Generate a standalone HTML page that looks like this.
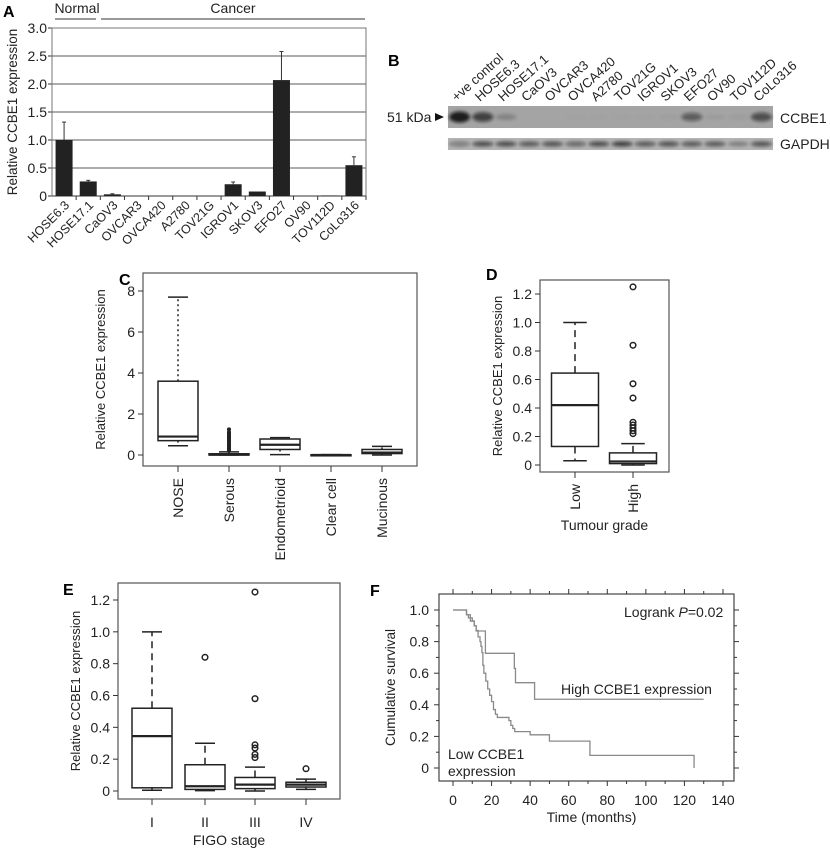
<!DOCTYPE html>
<html><head><meta charset="utf-8"><style>
html,body{margin:0;padding:0;background:#fff;}
svg{display:block;font-family:"Liberation Sans",Arial,sans-serif;}
</style></head><body>
<svg id="fig" width="830" height="851" viewBox="0 0 830 851" xmlns="http://www.w3.org/2000/svg">
<defs><filter id="blur" x="-50%" y="-50%" width="200%" height="200%"><feGaussianBlur stdDeviation="1.5"/></filter></defs>
<g id="pA"></g>
<g id="pB"></g>
<g id="pC"></g>
<g id="pD"></g>
<g id="pE"></g>
<g id="pF"></g>
</svg>
<script>
// ---- Panel A data
const aCategories = ["HOSE6.3","HOSE17.1","CaOV3","OVCAR3","OVCA420","A2780","TOV21G","IGROV1","SKOV3","EFO27","OV90","TOV112D","CoLo316"];
const aValues = [1.0,0.26,0.03,0,0,0,0,0.21,0.08,2.07,0,0.01,0.55];
const aErrors = [0.32,0.02,0.01,0,0,0,0,0.04,0,0.51,0,0,0.15];
const aTicks = [0,0.5,1.0,1.5,2.0,2.5,3.0];
const aTickLabels = ["0","0.5","1.0","1.5","2.0","2.5","3.0"];
// ---- Panel B data
const bLanes = ["+ve control","HOSE6.3","HOSE17.1","CaOV3","OVCAR3","OVCA420","A2780","TOV21G","IGROV1","SKOV3","EFO27","OV90","TOV112D","CoLo316"];
const bCCBE1 = [1.0,0.75,0.22,0,0,0.02,0.02,0.02,0.02,0.04,0.55,0.06,0.05,0.65];
const bGAPDH = [0.45,0.8,0.8,0.7,0.75,0.6,0.8,0.9,0.7,0.75,0.7,0.7,0.35,0.75];
// ---- Panel C data
const cCategories = ["NOSE","Serous","Endometrioid","Clear cell","Mucinous"];
const cMin = [0.45,0,0.02,-0.02,0];
const cQ1 = [0.7,0,0.27,-0.02,0.07];
const cMed = [0.9,0.02,0.5,0,0.12];
const cQ3 = [3.6,0.06,0.78,0.01,0.27];
const cMax = [7.7,0.15,0.85,0.02,0.42];
const cOutliers = [[],[0.2,0.3,0.4,0.5,0.6,0.7,0.8,0.9,1.0,1.1,1.25],[],[],[]];
const cTicks = [0,2,4,6,8];
// ---- Panel D data
const dCategories = ["Low","High"];
const dMin = [0.03,0];
const dQ1 = [0.13,0.01];
const dMed = [0.42,0.025];
const dQ3 = [0.645,0.085];
const dMax = [1.0,0.15];
const dOutliers = [[],[0.22,0.24,0.26,0.28,0.30,0.47,0.57,0.84,1.25]];
const dTicks = [0,0.2,0.4,0.6,0.8,1.0,1.2];
const dTickLabels = ["0","0.2","0.4","0.6","0.8","1.0","1.2"];
// ---- Panel E data
const eCategories = ["I","II","III","IV"];
const eMin = [0.005,0.002,0,0.01];
const eQ1 = [0.02,0.01,0.015,0.025];
const eMed = [0.345,0.03,0.04,0.04];
const eQ3 = [0.52,0.165,0.085,0.055];
const eMax = [1.0,0.3,0.15,0.075];
const eOutliers = [[],[0.84],[0.21,0.23,0.27,0.29,0.58,1.25],[0.14]];
// ---- Panel F data
const fHighTimes = [0,7,9,11,12,16.8,31.8,32.4,42.3,130];
const fHighSurv = [1.0,0.97,0.93,0.9,0.867,0.726,0.63,0.54,0.435,0.435];
const fLowTimes = [0,7,8,10,11,12,13,14,14.5,15,15.5,16,17,18,19,20,21,22,23,29,30,31,32,40,50,71,125];
const fLowSurv = [1.0,0.97,0.95,0.93,0.9,0.87,0.83,0.8,0.77,0.73,0.65,0.6,0.55,0.5,0.46,0.42,0.37,0.34,0.32,0.3,0.27,0.25,0.23,0.21,0.17,0.08,0.08];
const fXTicks = [0,20,40,60,80,100,120,140];
const fYTicks = [0,0.2,0.4,0.6,0.8,1.0];
const fYTickLabels = ["0","0.2","0.4","0.6","0.8","1.0"];

const NS="http://www.w3.org/2000/svg";
function mk(parent,tag,attrs,text){const e=document.createElementNS(NS,tag);for(const k in attrs)e.setAttribute(k,attrs[k]);if(text!==undefined)e.textContent=text;parent.appendChild(e);return e;}

// ===== Panel A
(function(){
const g=document.getElementById('pA');
const L=52,R=366,T=28,B=196;
const y=v=>B-(v/3)*(B-T);
const bw=(R-L)/aCategories.length;
const x=i=>L+bw*(i+0.5);
let t=mk(g,'text',{x:3,y:17,'font-size':16,'font-weight':'bold'},'A');

t=mk(g,'text',{x:77,y:13,'font-size':14,'text-anchor':'middle',fill:'#222'},'Normal');

mk(g,'line',{x1:55,x2:96,y1:19,y2:19,stroke:'#333'});
t=mk(g,'text',{x:233,y:13,'font-size':14,'text-anchor':'middle',fill:'#222'},'Cancer');

mk(g,'line',{x1:101,x2:365,y1:19,y2:19,stroke:'#333'});
aTicks.forEach((v,i)=>{
  if(v>0){const gl=mk(g,'line',{x1:L,x2:R,y1:y(v),y2:y(v),stroke:'#222','stroke-width':0.8});}
  mk(g,'line',{x1:L-4,x2:L,y1:y(v),y2:y(v),stroke:'#333'});
  const tl=mk(g,'text',{x:L-5,y:y(v)+5,'font-size':14,'text-anchor':'end',fill:'#222'},aTickLabels[i]);
  
});
mk(g,'rect',{x:L,y:T,width:R-L,height:B-T,fill:'none',stroke:'#777'});
mk(g,'line',{x1:L,x2:R,y1:B,y2:B,stroke:'#333'});
t=mk(g,'text',{transform:`translate(17,${(T+B)/2}) rotate(-90)`,'font-size':13.5,'text-anchor':'middle',fill:'#222'},'Relative CCBE1 expression');

aCategories.forEach((c,i)=>{
  mk(g,'line',{x1:L+bw*(i+1),x2:L+bw*(i+1),y1:B,y2:B+4,stroke:'#333'});
  const v=aValues[i];
  if(v>0){const r=mk(g,'rect',{x:x(i)-8.5,y:y(v),width:17,height:B-y(v),fill:'#222'});
    }
  if(aErrors[i]>0){mk(g,'line',{x1:x(i),x2:x(i),y1:y(v),y2:y(v+aErrors[i]),stroke:'#333'});
    mk(g,'line',{x1:x(i)-2,x2:x(i)+2,y1:y(v+aErrors[i]),y2:y(v+aErrors[i]),stroke:'#333'});}
  const tl=mk(g,'text',{transform:`translate(${x(i)+6},${B+10}) rotate(-45)`,'font-size':12.5,'text-anchor':'end',fill:'#222'},c);
  
});
})();

// ===== Panel B
(function(){
const g=document.getElementById('pB');
const L=448,R=773,n=bLanes.length,w=(R-L)/n;
let t=mk(g,'text',{x:388,y:66,'font-size':16,'font-weight':'bold'},'B');

bLanes.forEach((c,i)=>{
  const cx=L+w*(i+0.5);
  const tl=mk(g,'text',{transform:`translate(${cx-3},${102}) rotate(-42)`,'font-size':13,fill:'#222'},c);
  
});
let r=mk(g,'rect',{x:L,y:106,width:R-L,height:22,fill:'#a4a4a4'});

r=mk(g,'rect',{x:L,y:138,width:R-L,height:12,fill:'#b3b3b3'});

bCCBE1.forEach((v,i)=>{
  if(v<=0)return;
  const cx=L+w*(i+0.5);
  const e=mk(g,'ellipse',{cx:cx,cy:117,rx:w*0.45,ry:2.5+3*v,fill:'#111','fill-opacity':v*0.9,filter:'url(#blur)'});
  
});
bGAPDH.forEach((v,i)=>{
  const cx=L+w*(i+0.5);
  const e=mk(g,'ellipse',{cx:cx,cy:144,rx:w*0.45,ry:2.5,fill:'#111','fill-opacity':v*0.8,filter:'url(#blur)'});
  
});
t=mk(g,'text',{x:387,y:122,'font-size':14,fill:'#222'},'51 kDa');

mk(g,'polygon',{points:'435,113 444,117 435,121',fill:'#111'});
t=mk(g,'text',{x:780,y:123,'font-size':14,fill:'#222'},'CCBE1');

t=mk(g,'text',{x:780,y:149,'font-size':14,fill:'#222'},'GAPDH');

})();

// ===== boxplot helper
function boxplot(g,o){
  const {L,R,T,B,y0,yv,vmax,cats,xs,bw,mins,q1,med,q3,maxs,outs,ticks,tickLabels,dash,rotLabels,title,xTitle,letter,lx,ly}=o;
  const y=v=>y0-(v/vmax)*(y0-yv);
  let t=mk(g,'text',{x:lx,y:ly,'font-size':16,'font-weight':'bold'},letter);
  
  const fr=mk(g,'rect',{x:L,y:T,width:R-L,height:B-T,fill:'none',stroke:'#555','stroke-width':1.2});
  
  ticks.forEach((v,i)=>{
    mk(g,'line',{x1:L-5,x2:L,y1:y(v),y2:y(v),stroke:'#333'});
    const tl=mk(g,'text',{x:L-8,y:y(v)+5,'font-size':14,'text-anchor':'end',fill:'#222'},tickLabels[i]);
    
  });
  t=mk(g,'text',{transform:`translate(${L-38},${(T+B)/2}) rotate(-90)`,'font-size':13,'text-anchor':'middle',fill:'#222'},title);
  
  cats.forEach((c,i)=>{
    const cx=xs[i];
    mk(g,'line',{x1:cx,x2:cx,y1:B,y2:B+6,stroke:'#333'});
    const bg=mk(g,'g',{});
    
    mk(bg,'line',{x1:cx,x2:cx,y1:y(q3[i]),y2:y(maxs[i]),stroke:'#222','stroke-width':1.5,'stroke-dasharray':dash});
    mk(bg,'line',{x1:cx,x2:cx,y1:y(q1[i]),y2:y(mins[i]),stroke:'#222','stroke-width':1.5,'stroke-dasharray':dash});
    mk(bg,'line',{x1:cx-bw/4,x2:cx+bw/4,y1:y(maxs[i]),y2:y(maxs[i]),stroke:'#222','stroke-width':1.5});
    mk(bg,'line',{x1:cx-bw/4,x2:cx+bw/4,y1:y(mins[i]),y2:y(mins[i]),stroke:'#222','stroke-width':1.5});
    mk(bg,'rect',{x:cx-bw/2,y:y(q3[i]),width:bw,height:Math.max(1,y(q1[i])-y(q3[i])),fill:'#fff',stroke:'#222','stroke-width':1.5});
    mk(bg,'line',{x1:cx-bw/2,x2:cx+bw/2,y1:y(med[i]),y2:y(med[i]),stroke:'#222','stroke-width':2.2});
    outs[i].forEach(v=>{
      const c2=mk(g,'circle',{cx:cx,cy:y(v),r:o.outR,fill:o.outR<2?'#222':'none',stroke:'#222','stroke-width':1.5});
      
    });
    const tl=rotLabels?mk(g,'text',{transform:`translate(${cx+5},${B+12}) rotate(-90)`,'font-size':14,'text-anchor':'end',fill:'#222'},c)
      :mk(g,'text',{x:cx,y:B+28,'font-size':14,'text-anchor':'middle',fill:'#222'},c);
    
  });
  if(xTitle){t=mk(g,'text',{x:(L+R)/2,y:o.xty,'font-size':14,'text-anchor':'middle',fill:'#222'},xTitle);
    }
}
boxplot(document.getElementById('pC'),{L:143,R:417,T:273,B:466,y0:455,yv:291,vmax:8,cats:cCategories,xs:[178,229,280,331,382],bw:40,
  mins:cMin,q1:cQ1,med:cMed,q3:cQ3,maxs:cMax,outs:cOutliers,ticks:cTicks,tickLabels:cTicks.map(String),dash:'2,3',rotLabels:true,
  title:'Relative CCBE1 expression',letter:'C',lx:119,ly:285,outR:1.3});
boxplot(document.getElementById('pD'),{L:540,R:669,T:280,B:472,y0:465,yv:294,vmax:1.2,cats:dCategories,xs:[575,633],bw:47,
  mins:dMin,q1:dQ1,med:dMed,q3:dQ3,maxs:dMax,outs:dOutliers,ticks:dTicks,tickLabels:dTickLabels,dash:'7,5',rotLabels:true,
  title:'Relative CCBE1 expression',xTitle:'Tumour grade',xty:530,letter:'D',lx:486,ly:280,outR:2.8});
boxplot(document.getElementById('pE'),{L:118,R:340,T:583,B:799,y0:791,yv:600,vmax:1.2,cats:eCategories,xs:[152,205,255,306],bw:40,
  mins:eMin,q1:eQ1,med:eMed,q3:eQ3,maxs:eMax,outs:eOutliers,ticks:dTicks,tickLabels:dTickLabels,dash:'7,5',rotLabels:false,
  title:'Relative CCBE1 expression',xTitle:'FIGO stage',xty:845,letter:'E',lx:63,ly:595,outR:2.8});

// ===== Panel F
(function(){
const g=document.getElementById('pF');
const L=439,R=734,T=594,B=781;
const x=v=>453+v*(723-453)/140;
const y=v=>768-v*(768-610);
let t=mk(g,'text',{x:370,y:596,'font-size':16,'font-weight':'bold'},'F');

mk(g,'rect',{x:L,y:T,width:R-L,height:B-T,fill:'none',stroke:'#444','stroke-width':1.2});
fXTicks.forEach(v=>{
  mk(g,'line',{x1:x(v),x2:x(v),y1:B,y2:B+5,stroke:'#333'});
  mk(g,'line',{x1:x(v),x2:x(v),y1:T,y2:T-5,stroke:'#333'});
  if(v<140){mk(g,'line',{x1:x(v+10),x2:x(v+10),y1:B,y2:B+3,stroke:'#333'});mk(g,'line',{x1:x(v+10),x2:x(v+10),y1:T,y2:T-3,stroke:'#333'});}
  const tl=mk(g,'text',{x:x(v),y:805,'font-size':14,'text-anchor':'middle',fill:'#222'},String(v));
  
});
fYTicks.forEach((v,i)=>{
  mk(g,'line',{x1:L-5,x2:L,y1:y(v),y2:y(v),stroke:'#333'});
  mk(g,'line',{x1:R,x2:R+5,y1:y(v),y2:y(v),stroke:'#333'});
  if(i<5){mk(g,'line',{x1:L-3,x2:L,y1:y(v+0.1),y2:y(v+0.1),stroke:'#333'});mk(g,'line',{x1:R,x2:R+3,y1:y(v+0.1),y2:y(v+0.1),stroke:'#333'});}
  const tl=mk(g,'text',{x:L-10,y:y(v)+5,'font-size':14,'text-anchor':'end',fill:'#222'},fYTickLabels[i]);
  
});
t=mk(g,'text',{transform:`translate(${L-44},${(T+B)/2}) rotate(-90)`,'font-size':13.5,'text-anchor':'middle',fill:'#222'},'Cumulative survival');

t=mk(g,'text',{x:(L+R)/2+5,y:822,'font-size':14,'text-anchor':'middle',fill:'#222'},'Time (months)');

function step(ts,ss,drop){let d=`M${x(ts[0])},${y(ss[0])}`;for(let i=1;i<ts.length;i++){d+=` H${x(ts[i])} V${y(ss[i])}`;}if(drop)d+=` V${y(0)}`;return d;}
let p=mk(g,'path',{d:step(fHighTimes,fHighSurv,false),fill:'none',stroke:'#8a8a8a','stroke-width':1.3});

p=mk(g,'path',{d:step(fLowTimes,fLowSurv,true),fill:'none',stroke:'#8a8a8a','stroke-width':1.3});

t=mk(g,'text',{x:624,y:617,'font-size':14,fill:'#222'});

t.innerHTML='Logrank <tspan font-style="italic">P</tspan>=0.02';
t=mk(g,'text',{x:561,y:694,'font-size':14,fill:'#222'},'High CCBE1 expression');

t=mk(g,'text',{x:448,y:759,'font-size':14,fill:'#222'},'Low CCBE1');

t=mk(g,'text',{x:448,y:776,'font-size':14,fill:'#222'},'expression');

})();
</script>
</body></html>
